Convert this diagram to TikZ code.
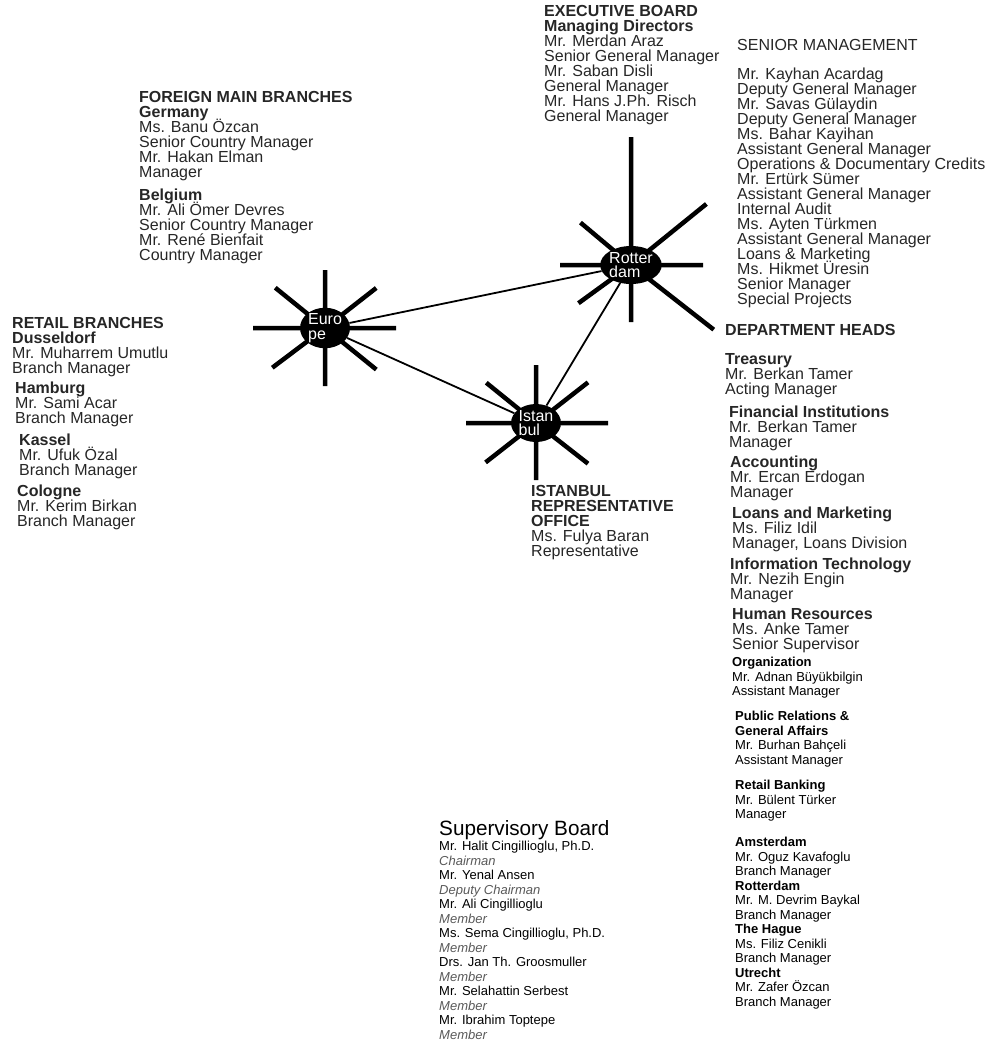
\documentclass[tikz,border=0pt]{standalone}
\usepackage{fontspec}
\setmainfont{Liberation Sans}
\usetikzlibrary{shapes.geometric,backgrounds}

\newcommand{\tightlines}{\lineskiplimit -20pt\relax}
\newcommand{\rolename}[1]{\textcolor{black!65}{\itshape #1}}

\tikzset{
  hub/.style={ellipse,fill=black,text=white,minimum width=50pt,minimum height=38pt,
    inner sep=0pt,align=left,font=\fontsize{16}{14.3}\selectfont\tightlines},
  ray/.style={line width=4.5pt},
  link/.style={line width=1.8pt},
  block/.style={anchor=north west,yshift=12pt,inner sep=0pt,align=left,text=black!85,
    font=\fontsize{16}{15}\selectfont\tightlines,
    execute at begin node={\rule{0pt}{12pt}}},
  smallblock/.style={anchor=north west,yshift=10pt,inner sep=0pt,align=left,
    font=\fontsize{13}{14.5}\selectfont\tightlines,
    execute at begin node={\rule{0pt}{10pt}}}
}

\begin{document}
\begin{tikzpicture}[x=1pt,y=-1pt]
    \useasboundingbox (0,0) rectangle (993,1042);

    \node[hub] (europe) at (325,328) {Euro\\pe};
    \node[hub] (rotterdam) at (631,265) {Rotter\\dam};
    \node[hub] (istanbul) at (536,423) {Istan\\bul};

    \begin{scope}[on background layer]
        \draw[ray] (europe.center) -- ++(90:58pt) (europe.center) -- ++(270:58pt)
            (europe.center) -- ++(180:72pt) (europe.center) -- ++(0:71pt)
            (europe.center) -- ++(141:64pt) (europe.center) -- ++(38:65pt)
            (europe.center) -- ++(217:66pt) (europe.center) -- ++(-39:66pt);
        \draw[ray] (rotterdam.center) -- ++(90:128pt) (rotterdam.center) -- ++(270:57pt)
            (rotterdam.center) -- ++(180:71pt) (rotterdam.center) -- ++(0:72pt)
            (rotterdam.center) -- ++(140:66pt) (rotterdam.center) -- ++(39:97pt)
            (rotterdam.center) -- ++(216:65pt) (rotterdam.center) -- ++(-38:105pt);
        \draw[ray] (istanbul.center) -- ++(90:58pt) (istanbul.center) -- ++(270:57pt)
            (istanbul.center) -- ++(180:70pt) (istanbul.center) -- ++(0:72pt)
            (istanbul.center) -- ++(141:64pt) (istanbul.center) -- ++(38:66pt)
            (istanbul.center) -- ++(218:64pt) (istanbul.center) -- ++(-38:66pt);
    \end{scope}

    \draw[link] (europe) -- (rotterdam) (europe) -- (istanbul) (istanbul) -- (rotterdam);

    \node[block] (execboard) at (544,17) {\textbf{EXECUTIVE BOARD}\\\textbf{Managing Directors}\\
        Mr. Merdan Araz\\Senior General Manager\\Mr. Saban Disli\\General Manager\\
        Mr. Hans J.Ph. Risch\\General Manager};
    \node[block] (seniormgmt) at (737,51) {SENIOR MANAGEMENT\\[14pt]
        Mr. Kayhan Acardag\\Deputy General Manager\\Mr. Savas Gülaydin\\Deputy General Manager\\
        Ms. Bahar Kayihan\\Assistant General Manager\\Operations \& Documentary Credits\\
        Mr. Ertürk Sümer\\Assistant General Manager\\Internal Audit\\
        Ms. Ayten Türkmen\\Assistant General Manager\\Loans \& Marketing\\
        Ms. Hikmet Üresin\\Senior Manager\\Special Projects};

    \node[block] (foreign) at (139,103) {\textbf{FOREIGN MAIN BRANCHES}\\\textbf{Germany}\\
        Ms. Banu Özcan\\Senior Country Manager\\Mr. Hakan Elman\\Manager\\[8pt]
        \textbf{Belgium}\\Mr. Ali Ömer Devres\\Senior Country Manager\\
        Mr. René Bienfait\\Country Manager};

    \node[block] (retail) at (12,329) {\textbf{RETAIL BRANCHES}\\\textbf{Dusseldorf}\\
        Mr. Muharrem Umutlu\\Branch Manager};
    \node[block] (hamburg) at (15,394) {\textbf{Hamburg}\\Mr. Sami Acar\\Branch Manager};
    \node[block] (kassel) at (19,446) {\textbf{Kassel}\\Mr. Ufuk Özal\\Branch Manager};
    \node[block] (cologne) at (17,497) {\textbf{Cologne}\\Mr. Kerim Birkan\\Branch Manager};

    \node[block] (repoffice) at (531,497) {\textbf{ISTANBUL}\\\textbf{REPRESENTATIVE}\\
        \textbf{OFFICE}\\Ms. Fulya Baran\\Representative};

    \node[block] (deptheads) at (725,336) {\textbf{DEPARTMENT HEADS}\\[14pt]
        \textbf{Treasury}\\Mr. Berkan Tamer\\Acting Manager};
    \node[block] (financial) at (729,418) {\textbf{Financial Institutions}\\
        Mr. Berkan Tamer\\Manager};
    \node[block] (accounting) at (730,468) {\textbf{Accounting}\\Mr. Ercan Erdogan\\Manager};
    \node[block] (loans) at (732,519) {\textbf{Loans and Marketing}\\Ms. Filiz Idil\\
        Manager, Loans Division};
    \node[block] (infotech) at (730,570) {\textbf{Information Technology}\\Mr. Nezih Engin\\Manager};
    \node[block] (human) at (732,620) {\textbf{Human Resources}\\Ms. Anke Tamer\\
        Senior Supervisor};

    \node[smallblock] (organization) at (732,667) {\textbf{Organization}\\
        Mr. Adnan Büyükbilgin\\Assistant Manager};
    \node[smallblock] (publicrel) at (735,721) {\textbf{Public Relations \&}\\
        \textbf{General Affairs}\\Mr. Burhan Bahçeli\\Assistant Manager};
    \node[smallblock] (retailbank) at (735,790) {\textbf{Retail Banking}\\
        Mr. Bülent Türker\\Manager};
    \node[smallblock] (nlbranches) at (735,847) {\textbf{Amsterdam}\\Mr. Oguz Kavafoglu\\
        Branch Manager\\\textbf{Rotterdam}\\Mr. M. Devrim Baykal\\Branch Manager\\
        \textbf{The Hague}\\Ms. Filiz Cenikli\\Branch Manager\\
        \textbf{Utrecht}\\Mr. Zafer Özcan\\Branch Manager};

    \node[anchor=base west,inner sep=0pt,font=\fontsize{20.7}{22}\selectfont] (supboard)
        at (439,835) {Supervisory Board};
    \node[smallblock] (members) at (439,851) {Mr. Halit Cingillioglu, Ph.D.\\\rolename{Chairman}\\
        Mr. Yenal Ansen\\\rolename{Deputy Chairman}\\Mr. Ali Cingillioglu\\\rolename{Member}\\
        Ms. Sema Cingillioglu, Ph.D.\\\rolename{Member}\\Drs. Jan Th. Groosmuller\\\rolename{Member}\\
        Mr. Selahattin Serbest\\\rolename{Member}\\Mr. Ibrahim Toptepe\\\rolename{Member}};
\end{tikzpicture}
\end{document}
